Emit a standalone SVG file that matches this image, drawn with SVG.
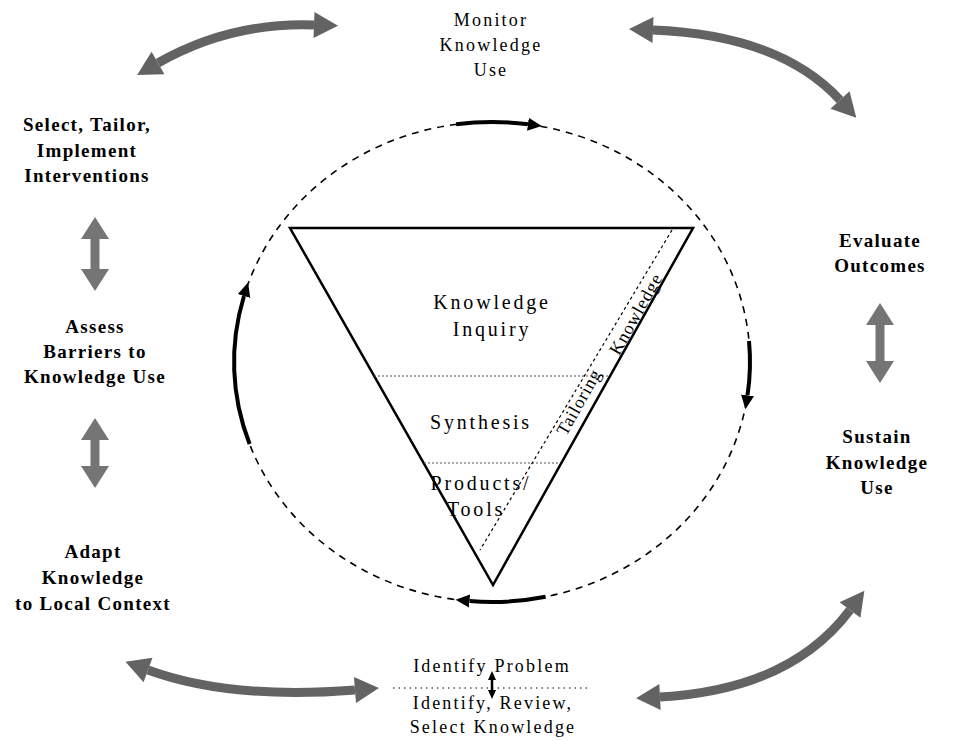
<svg xmlns="http://www.w3.org/2000/svg" width="957" height="741" viewBox="0 0 957 741">
<style>
.b{font-family:"Liberation Serif","Times New Roman",serif;font-weight:bold;font-size:19px;text-anchor:middle;letter-spacing:1.3px;fill:#000}
.r{font-family:"Liberation Serif","Times New Roman",serif;font-size:18px;text-anchor:middle;letter-spacing:2.2px;fill:#000}
.c{font-family:"Liberation Serif","Times New Roman",serif;font-size:20px;text-anchor:middle;letter-spacing:2.8px;fill:#000}
.t{font-family:"Liberation Serif","Times New Roman",serif;font-size:18px;text-anchor:middle;letter-spacing:0.8px;fill:#000}
.g{fill:none;stroke:#636363;stroke-width:9;marker-start:url(#gh);marker-end:url(#gh)}
.gv{fill:none;stroke:#757575;stroke-width:9;marker-start:url(#gv);marker-end:url(#gv)}
.k{fill:none;stroke:#000;stroke-width:4;marker-end:url(#kh)}
</style>
<defs>
<marker id="gh" markerUnits="userSpaceOnUse" markerWidth="30" markerHeight="30" viewBox="0 -15 26 30" refX="0" refY="0" orient="auto-start-reverse"><path d="M0,-13 L24,0 L0,13 Z" fill="#636363"/></marker>
<marker id="gv" markerUnits="userSpaceOnUse" markerWidth="30" markerHeight="32" viewBox="0 -16 24 32" refX="0" refY="0" orient="auto-start-reverse"><path d="M0,-14 L22,0 L0,14 Z" fill="#757575"/></marker>
<marker id="kh" markerUnits="userSpaceOnUse" markerWidth="16" markerHeight="16" viewBox="0 -8 16 16" refX="0" refY="0" orient="auto"><path d="M0,-6.5 L14,0 L0,6.5 Z" fill="#000"/></marker>
<marker id="sk" markerUnits="userSpaceOnUse" markerWidth="10" markerHeight="10" viewBox="0 -5 10 10" refX="0" refY="0" orient="auto-start-reverse"><path d="M0,-4 L9,0 L0,4 Z" fill="#000"/></marker>
</defs>

<g id="cycle">
<ellipse cx="492" cy="362" rx="258" ry="240" fill="none" stroke="#000" stroke-width="1.6" stroke-dasharray="7 6"/>
</g>

<g id="funnel">
<polygon points="290,228 693,228 493,585" fill="none" stroke="#000" stroke-width="2.5" stroke-linejoin="miter"/>
<line x1="374" y1="376" x2="610" y2="376" stroke="#555" stroke-width="1" stroke-dasharray="2 2"/>
<line x1="424" y1="463" x2="559" y2="463" stroke="#555" stroke-width="1" stroke-dasharray="2 2"/>
<line x1="672" y1="230" x2="480" y2="550" stroke="#000" stroke-width="1.2" stroke-dasharray="3 3"/>
<text class="c" x="492" y="309">Knowledge</text>
<text class="c" x="492" y="336">Inquiry</text>
<text class="c" x="481" y="429">Synthesis</text>
<text class="c" x="481" y="490">Products/</text>
<text class="c" x="476" y="516">Tools</text>
<text class="t" transform="translate(641,317) rotate(-60.7)">Knowledge</text>
<text class="t" transform="translate(584,405) rotate(-60.7)">Tailoring</text>
</g>

<g id="monitor"><text class="r" x="491" y="26">Monitor</text><text class="r" x="491" y="51">Knowledge</text><text class="r" x="491" y="76">Use</text></g>
<g id="evaluate"><text class="b" x="880" y="247">Evaluate</text><text class="b" x="880" y="272">Outcomes</text></g>
<g id="sustain"><text class="b" x="877" y="443">Sustain</text><text class="b" x="877" y="469">Knowledge</text><text class="b" x="877" y="494">Use</text></g>
<g id="select"><text class="b" x="87" y="131">Select, Tailor,</text><text class="b" x="87" y="157">Implement</text><text class="b" x="87" y="182">Interventions</text></g>
<g id="assess"><text class="b" x="95" y="333">Assess</text><text class="b" x="95" y="358">Barriers to</text><text class="b" x="95" y="383">Knowledge Use</text></g>
<g id="adapt"><text class="b" x="93" y="558">Adapt</text><text class="b" x="93" y="584">Knowledge</text><text class="b" x="93" y="610">to Local Context</text></g>
<g id="identify"><text class="r" x="492" y="672">Identify Problem</text><text class="r" x="493" y="709">Identify, Review,</text><text class="r" x="493" y="733">Select Knowledge</text>
<line x1="393" y1="688" x2="590" y2="688" stroke="#000" stroke-width="1" stroke-dasharray="1.5 4"/></g>

<g id="connectors">
<path class="g" d="M158,63 Q230,22 314,25"/>
<path class="g" d="M653,30 Q780,35 840,100"/>
<path class="g" d="M148,670 Q230,700 355,690"/>
<path class="g" d="M660,697 Q790,690 850,610"/>
<path class="gv" d="M95,239 L95,269"/>
<path class="gv" d="M95,440 L95,466"/>
<path class="gv" d="M880,325 L880,361"/>
<path d="M492,680 L492,690" stroke="#000" stroke-width="2.5" marker-start="url(#sk)" marker-end="url(#sk)"/>
<path class="k" d="M456.1,124.3 A258,240 0 0,1 527.9,124.3"/>
<path class="k" d="M749,341 A258,240 0 0,1 747.5,395.4"/>
<path class="k" d="M545.6,596.8 A258,240 0 0,1 469.5,601"/>
<path class="k" d="M249.6,444 A258,240 0 0,1 244,296"/>
</g>
</svg>
